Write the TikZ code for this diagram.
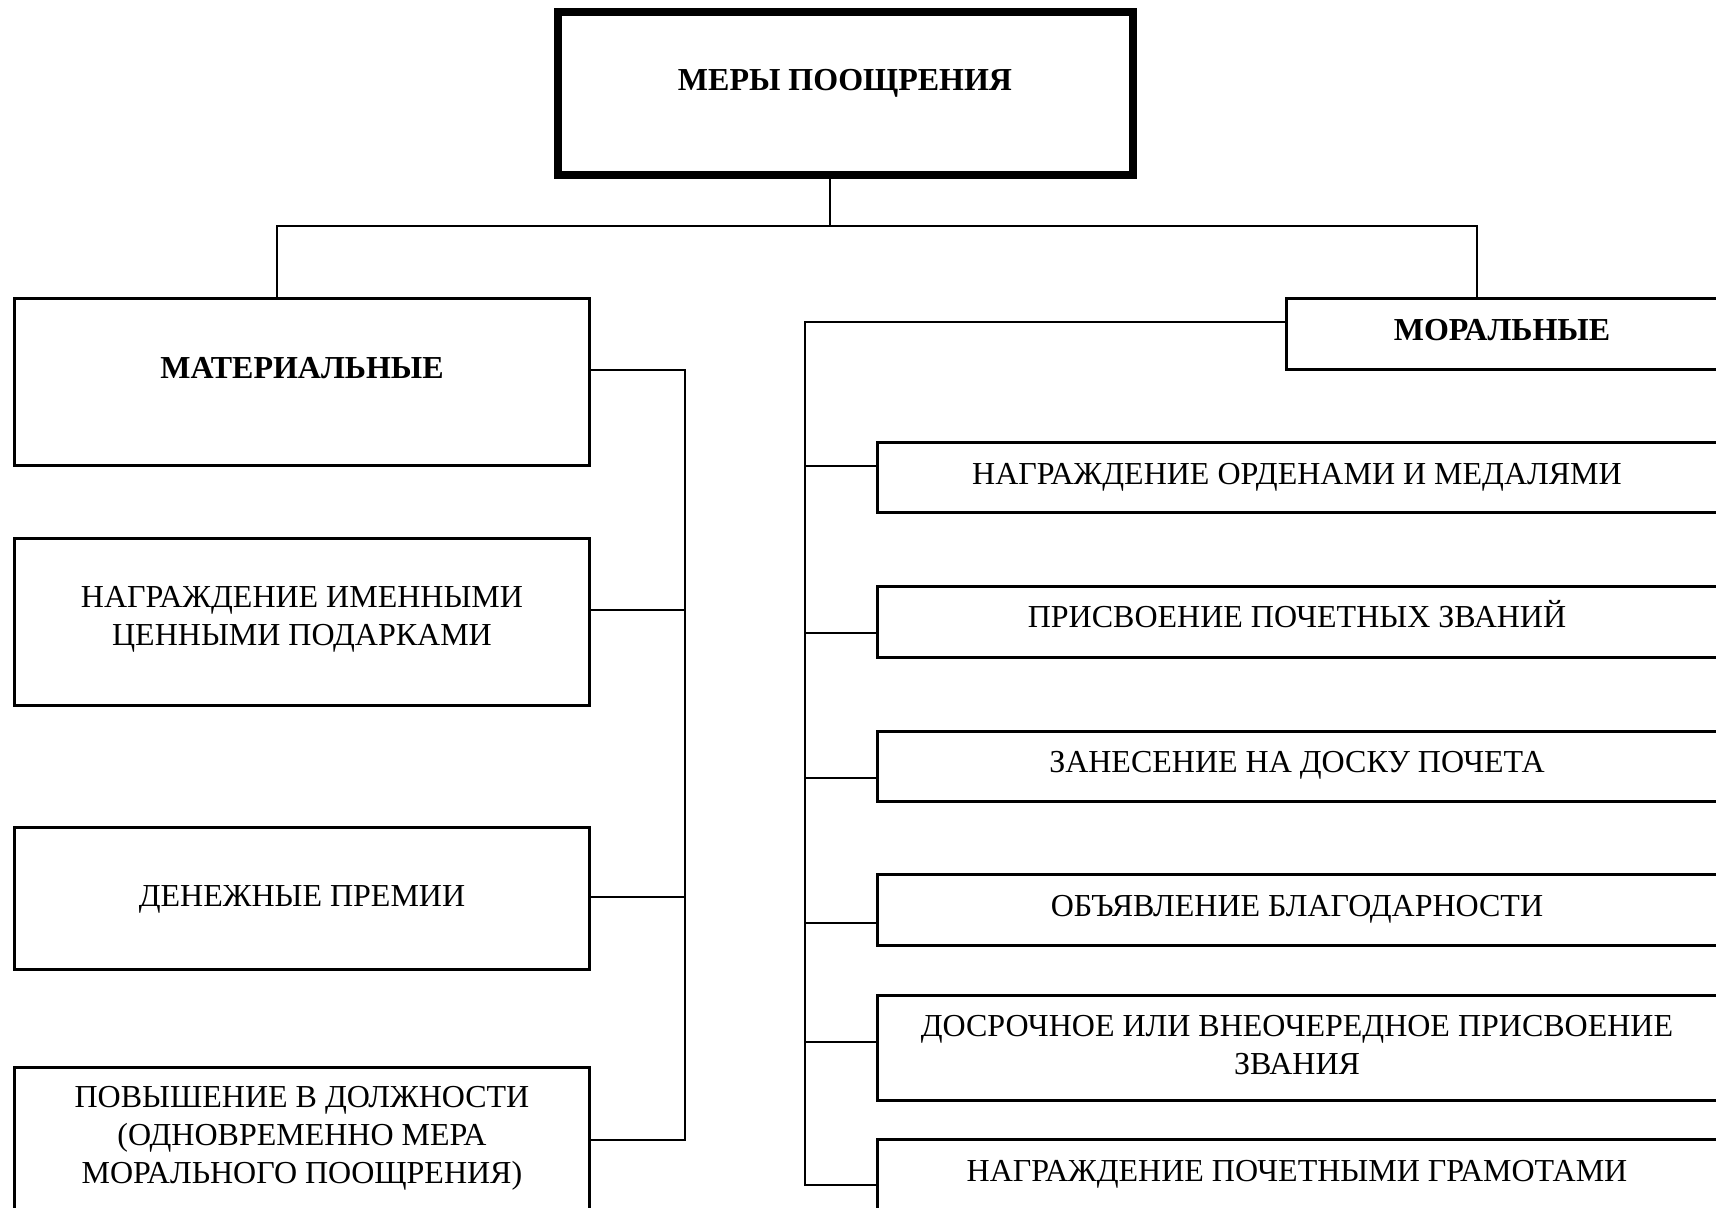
\documentclass[tikz,border=0pt]{standalone}
\usepackage{fontspec}
\setmainfont{Liberation Serif}
\newcommand\mkbox[6][frame]{%
  \pgfmathsetmacro\bcx{(#3+#5)/2}\pgfmathsetmacro\bcy{(#4+#6)/2}%
  \pgfmathsetmacro\bw{(#5-#3)*0.5}\pgfmathsetmacro\bh{(#6-#4)*0.5}%
  \node[#1, minimum width=\bw pt, minimum height=\bh pt] (#2) at (\bcx,\bcy) {};}
\begin{document}
\begin{tikzpicture}[x=0.5pt,y=-0.5pt,
  frame/.style={draw, line width=1.5pt, inner sep=0pt},
  heavy/.style={draw, line width=3.8pt, inner sep=0pt},
  txt/.style={align=center, inner sep=0pt, font=\fontsize{16}{19}\selectfont},
  btxt/.style={txt, font=\fontsize{16}{19}\selectfont\bfseries},
  conn/.style={line width=0.75pt}]
\clip (0,0) rectangle (1716,1208);
\fill[white] (0,0) rectangle (1716,1208);

% boxes
\mkbox[heavy]{top}{558}{12}{1133}{175}
\mkbox{mat}{14}{299}{589}{465}
\mkbox{mor}{1286}{299}{1722}{369}
\mkbox{b2}{14}{538}{589}{705}
\mkbox{b3}{14}{827}{589}{969}
\mkbox{b4}{14}{1067}{589}{1260}
\mkbox{r1}{877}{442}{1722}{512}
\mkbox{r2}{877}{586}{1722}{657}
\mkbox{r3}{877}{731}{1722}{801}
\mkbox{r4}{877}{874}{1722}{945}
\mkbox{r5}{877}{995}{1722}{1100}
\mkbox{r6}{877}{1139}{1722}{1260}

% texts
\node[btxt, anchor=base] (top-t) at (845,91) {МЕРЫ ПООЩРЕНИЯ};
\node[btxt, anchor=base] (mat-t) at (302,378) {МАТЕРИАЛЬНЫЕ};
\node[btxt, anchor=base] (mor-t) at (1502,341) {МОРАЛЬНЫЕ};
\node[txt] (b2-t) at (302,619) {НАГРАЖДЕНИЕ ИМЕННЫМИ\\ЦЕННЫМИ ПОДАРКАМИ};
\node[txt, anchor=base] (b3-t) at (302,906) {ДЕНЕЖНЫЕ ПРЕМИИ};
\node[txt] (b4-t) at (302,1138) {ПОВЫШЕНИЕ В ДОЛЖНОСТИ\\(ОДНОВРЕМЕННО МЕРА\\МОРАЛЬНОГО ПООЩРЕНИЯ)};
\node[txt, anchor=base] (r1-t) at (1297,484) {НАГРАЖДЕНИЕ ОРДЕНАМИ И МЕДАЛЯМИ};
\node[txt, anchor=base] (r2-t) at (1297,627) {ПРИСВОЕНИЕ ПОЧЕТНЫХ ЗВАНИЙ};
\node[txt, anchor=base] (r3-t) at (1297,772) {ЗАНЕСЕНИЕ НА ДОСКУ ПОЧЕТА};
\node[txt, anchor=base] (r4-t) at (1297,916) {ОБЪЯВЛЕНИЕ БЛАГОДАРНОСТИ};
\node[txt] (r5-t) at (1297,1045) {ДОСРОЧНОЕ ИЛИ ВНЕОЧЕРЕДНОЕ ПРИСВОЕНИЕ\\ЗВАНИЯ};
\node[txt, anchor=base] (r6-t) at (1297,1181) {НАГРАЖДЕНИЕ ПОЧЕТНЫМИ ГРАМОТАМИ};

% top connectors
\coordinate (stem) at (830,226);
\coordinate (busL) at (277,226);
\coordinate (busR) at (1477,226);
\draw[conn] (stem |- top.south) -- (stem);
\draw[conn] (busL |- mat.north) -- (busL) -- (busR) -- (busR |- mor.north);

% left trunk
\coordinate (lt) at (685,370);
\coordinate (l2) at (685,610);
\coordinate (l3) at (685,897);
\coordinate (l4) at (685,1140);
\draw[conn] (mat.east |- lt) -- (lt) -- (l4) -- (b4.east |- l4);
\draw[conn] (l2) -- (b2.east |- l2);
\draw[conn] (l3) -- (b3.east |- l3);

% right trunk
\coordinate (rt) at (805,322);
\coordinate (q1) at (805,466);
\coordinate (q2) at (805,633);
\coordinate (q3) at (805,778);
\coordinate (q4) at (805,923);
\coordinate (q5) at (805,1042);
\coordinate (q6) at (805,1185);
\draw[conn] (mor.west |- rt) -- (rt) -- (q6) -- (r6.west |- q6);
\draw[conn] (q1) -- (r1.west |- q1);
\draw[conn] (q2) -- (r2.west |- q2);
\draw[conn] (q3) -- (r3.west |- q3);
\draw[conn] (q4) -- (r4.west |- q4);
\draw[conn] (q5) -- (r5.west |- q5);
\end{tikzpicture}
\end{document}
